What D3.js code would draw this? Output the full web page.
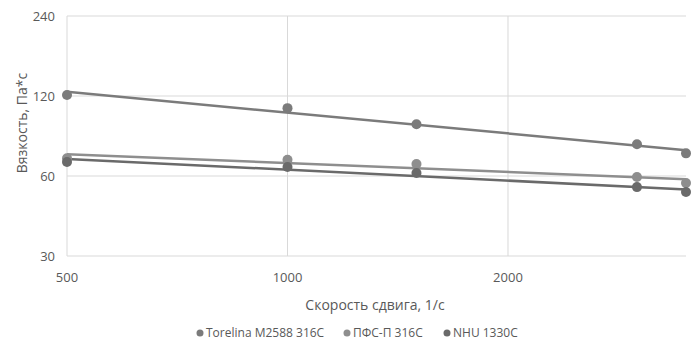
<!DOCTYPE html>
<html>
<head>
<meta charset="utf-8">
<script src="https://cdn.jsdelivr.net/npm/d3@7"></script>
<style>
  body { margin: 0; background: #fff; }
  text { font-family: "Open Sans", sans-serif; fill: #595959; }
</style>
</head>
<body>
<div id="chart"></div>
<script>
// shear rate, 1/s
let shearRate = [500, 1000, 1500, 3000, 3500];
let seriesNames = ["Torelina M2588 316C", "ПФС-П 316C", "NHU 1330C"];
// viscosity, Pa*s
let torelina = [121, 108, 94, 79, 73];
let pfs = [70, 69, 66.6, 59.5, 56.5];
let nhu = [67.7, 64.9, 61.6, 54.5, 52.2];
let xTicks = [500, 1000, 2000];
let yTicks = [30, 60, 120, 240];
let colors = ["#7b7b7b", "#8e8e8e", "#6a6a6a"];

function chart() {
  let width = 691, height = 351;
  let margin = ({top: 16, right: 5, bottom: 95, left: 67});

  let x = d3.scaleLog()
    .domain([500, 3500])
    .range([margin.left, width - margin.right]);
  let y = d3.scaleLog()
    .domain([30, 240])
    .range([height - margin.bottom, margin.top]);

  const svg = d3.select("#chart").append("svg")
    .attr("width", width)
    .attr("height", height);

  // grid
  svg.append("g")
    .selectAll("line")
    .data(yTicks)
    .join("line")
    .attr("x1", x(500)).attr("x2", x(3500))
    .attr("y1", d => y(d)).attr("y2", d => y(d))
    .attr("stroke", "#d9d9d9");
  svg.append("g")
    .selectAll("line")
    .data(xTicks)
    .join("line")
    .attr("x1", d => x(d)).attr("x2", d => x(d))
    .attr("y1", y(30)).attr("y2", y(240))
    .attr("stroke", "#d9d9d9");

  // axis labels
  svg.append("g")
    .selectAll("text")
    .data(yTicks)
    .join("text")
    .attr("x", margin.left - 12)
    .attr("y", d => y(d))
    .attr("dy", "0.35em")
    .attr("text-anchor", "end")
    .attr("font-size", 13)
    .text(d => d);
  svg.append("g")
    .selectAll("text")
    .data(xTicks)
    .join("text")
    .attr("x", d => x(d))
    .attr("y", y(30) + 26)
    .attr("text-anchor", "middle")
    .attr("font-size", 13)
    .text(d => d);

  svg.append("text")
    .attr("x", 375)
    .attr("y", 310)
    .attr("text-anchor", "middle")
    .attr("font-size", 14)
    .text("Скорость сдвига, 1/с");
  svg.append("text")
    .attr("transform", "translate(27,123) rotate(-90)")
    .attr("text-anchor", "middle")
    .attr("font-size", 14)
    .text("Вязкость, Па*с");

  let data = [torelina, pfs, nhu];

  // power trendlines (least squares in log-log, like Excel)
  data.forEach(function(vals, i) {
    let lx = shearRate.map(Math.log), ly = vals.map(Math.log);
    let mx = d3.mean(lx), my = d3.mean(ly);
    let b = d3.sum(lx, (d, k) => (d - mx) * (ly[k] - my)) / d3.sum(lx, d => (d - mx) * (d - mx));
    let a = my - b * mx;
    let fit = v => Math.exp(a + b * Math.log(v));
    let ends = [shearRate[0], shearRate[shearRate.length - 1]];
    svg.append("line")
      .attr("x1", x(ends[0])).attr("y1", y(fit(ends[0])))
      .attr("x2", x(ends[1])).attr("y2", y(fit(ends[1])))
      .attr("stroke", colors[i])
      .attr("stroke-width", 2.5);
  });

  data.forEach(function(vals, i) {
    svg.append("g")
      .attr("fill", colors[i])
      .selectAll("circle")
      .data(vals)
      .join("circle")
      .attr("cx", (d, k) => x(shearRate[k]))
      .attr("cy", d => y(d))
      .attr("r", 5);
  });

  // legend
  let legendX = [200, 347, 447];
  let legend = svg.append("g")
    .selectAll("g")
    .data(seriesNames)
    .join("g")
    .attr("transform", (d, i) => `translate(${legendX[i]},333)`);
  legend.append("circle")
    .attr("r", 3.5)
    .attr("fill", (d, i) => colors[i]);
  legend.append("text")
    .attr("x", 6)
    .attr("dy", "0.35em")
    .attr("font-size", 12)
    .text(d => d);

  return svg.node();
}

chart();
</script>
</body>
</html>
